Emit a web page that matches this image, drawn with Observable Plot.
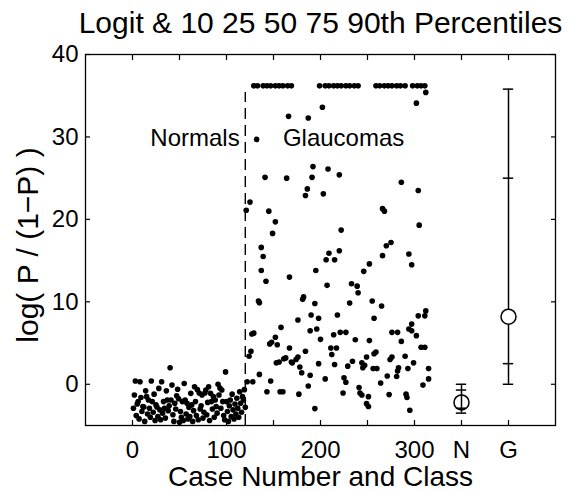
<!DOCTYPE html>
<html><head><meta charset="utf-8">
<script src="https://cdn.jsdelivr.net/npm/d3@7"></script>
<script src="https://cdn.jsdelivr.net/npm/@observablehq/plot@0.6"></script>
<style>body{margin:0;background:#fff} svg{font-family:"Liberation Sans",Arial,Helvetica,sans-serif}</style>
</head><body><div id="chart"></div>
<script>
const titleText = "Logit & 10 25 50 75 90th Percentiles";
const xLabelText = "Case Number and Class";
const yLabelText = "log( P / (1\u2212P) )";

const xTicks = [0, 50, 100, 150, 200, 250, 300, 350, 400];
const xTickLabels = ["0", "", "100", "", "200", "", "300", "N", "G"];
const yTicks = [0, 10, 20, 30, 40];

// Normals: cases 1..120
const normalValues = [
 -2.9,-1.3,0.4,-3.8,-2.4,-2.1,-4.2,0.3,-1.6,-3.3,
 -2.7,-2.75,-4.5,-0.8,-1.5,-3.6,-1.9,-2.9,-4.0,0.4,
 -2.1,-3.4,-1.2,-4.4,-2.5,-2.75,-3.9,-0.5,-3.1,-4.3,
 0.3,-3.5,-2.1,-2.9,-4.1,-0.8,-1.9,-3.2,-2.6,2.0,
 -1.9,-0.1,-3.7,-4.5,-2.3,-3.0,-1.4,-0.6,-1.75,-4.6,
 -3.3,-4.0,-2.1,-4.4,0.1,-1.9,-3.6,-2.3,-4.2,-2.8,
 -3.9,-1.1,-2.5,-4.5,-3.2,-0.3,-2.1,-3.8,-0.65,-4.3,
 -1.05,-3.0,-2.6,-1.3,-4.1,-3.4,-1.05,-0.7,-3.7,-2.2,
 -0.3,-4.4,-1.1,-2.1,-3.0,-1.5,-4.0,-1.9,-2.7,-3.5,
 0.0,-1.3,-0.45,-2.9,-0.7,-2.1,-3.8,-4.3,1.5,-2.1,
 -3.3,-4.5,-2.6,-1.9,-3.9,-1.2,-3.1,-4.2,-2.4,-3.6,
 -1.7,-2.9,-4.0,-0.9,-2.3,-3.4,-1.5,-1.9,-0.65,-2.8
];

// Glaucomas: case numbers and logit values
const glaucomaCases = [
 129,133,139,143,147,152,156,160,165,169,199,205,209,214,218,222,227,231,236,240,
 259,263,268,272,276,281,285,290,298,303,307,311,312,
 121,125,132,141,145,149,152,137,139,137,142,166,164,167,187,192,191,186,184,195,
 134,135,181,182,194,190,176,198,189,196,158,152,148,146,154,127,129,126,124,167,
 184,161,156,153,163,169,176,174,170,178,180,189,198,135,147,187,177,157,160,143,
 128,122,194,202,208,220,203,286,304,266,268,305,222,206,209,215,220,246,252,266,
 270,275,294,297,207,233,239,240,231,255,265,218,257,304,312,311,297,214,221,227,
 276,282,294,297,302,200,237,252,286,211,212,217,259,257,307,311,290,276,274,249,
 244,247,245,234,229,215,256,260,299,283,282,293,315,205,225,227,271,281,315,264,
 309,224,241,242,244,251,273,291,292,249,251,295,302
];
const glaucomaValues = [
 36.2,36.2,36.2,36.2,36.2,36.2,36.2,36.2,36.2,36.2,36.2,36.2,36.2,36.2,36.2,36.2,36.2,36.2,36.2,36.2,
 36.2,36.2,36.2,36.2,36.2,36.2,36.2,36.2,36.2,36.2,36.2,36.2,35.4,
 21.1,22.1,29.7,25.1,21.0,18.3,19.7,16.6,15.5,13.8,12.5,32.5,25.0,13.0,32.3,26.4,25.1,23.7,22.9,13.8,
 10.1,9.9,10.3,10.6,9.8,8.4,7.8,8.0,6.5,6.7,6.9,5.7,5.1,4.9,4.8,6.1,6.2,4.0,3.4,4.4,
 4.0,3.1,2.7,2.6,3.2,2.7,3.3,3.0,2.6,2.1,1.4,1.1,2.5,1.2,0.4,-0.2,-1.2,-0.9,-0.9,-0.9,
 0.3,0.3,-2.95,33.6,26.1,25.4,23.1,24.5,23.5,21.3,21.0,19.3,18.7,15.1,15.9,15.1,16.2,13.7,14.6,15.6,
 16.8,17.2,15.8,14.5,12.0,12.2,11.9,11.1,9.85,10.1,9.5,8.4,8.0,8.3,8.9,8.3,7.3,6.0,6.3,6.3,
 6.3,6.3,6.7,6.5,5.9,5.45,5.4,5.3,5.2,4.4,3.6,4.4,3.9,3.7,4.5,4.5,3.4,3.3,3.0,3.3,
 2.6,2.3,2.0,2.8,2.2,2.4,1.9,1.9,2.6,2.0,1.6,1.9,1.9,0.65,0.8,0.25,1.0,0.95,0.65,0.15,
 -0.1,-1.05,-0.4,-1.05,-1.3,-1.5,-1.25,-1.2,-1.6,-2.35,-2.7,-3.15,34.1
];

// Percentile summaries per class
const classNames = ["N", "G"];
const classPositions = [350, 400];
const p10 = [-3.5, 0.0];
const p25 = [-2.9, 2.5];
const p50 = [-2.2, 8.2];
const p75 = [-0.7, 25.0];
const p90 = [0.0, 35.8];

const boundaryCase = 120;
const capValue = 36.2;
const normalsLabel = {t: "Normals", c: 114, v: 29.8};
const glaucomasLabel = {t: "Glaucomas", c: 160, v: 29.8};

const xDomain = [-50, 450];
const yDomain = [-5, 40];

const normals = normalValues.map((v, i) => ({c: i + 1, v}));
const glaucomas = glaucomaCases.map((c, i) => ({c, v: glaucomaValues[i]}));
const pct = classNames.map((n, i) => ({n, pos: classPositions[i], p10: p10[i], p25: p25[i], p50: p50[i], p75: p75[i], p90: p90[i]}));
const capRows = pct.flatMap(d => [d.p10, d.p25, d.p75, d.p90].map(v => ({pos: d.pos, v})));

const capHalf = 5.5; // data units (~5px)

const chart = Plot.plot({
  width: 575, height: 492,
  marginLeft: 85, marginRight: 20, marginTop: 54, marginBottom: 67,
  style: {fontFamily: "Liberation Sans, Arial, Helvetica, sans-serif", fontSize: "24px", color: "black", background: "white", overflow: "visible"},
  x: {domain: xDomain, label: null},
  y: {domain: yDomain, label: null},
  marks: [
    Plot.frame({stroke: "black", strokeWidth: 1.3}),
    Plot.axisX(xTicks, {anchor: "bottom", tickSize: -5, fill: "none", label: null, strokeWidth: 1.2}),
    Plot.axisX(xTicks, {anchor: "top", tickSize: -5, fill: "none", label: null, strokeWidth: 1.2}),
    Plot.axisY(yTicks, {anchor: "left", tickSize: -5, fill: "none", label: null, strokeWidth: 1.2}),
    Plot.axisY(yTicks, {anchor: "right", tickSize: -5, fill: "none", label: null, strokeWidth: 1.2}),
    Plot.axisX(xTicks, {anchor: "bottom", tickSize: 0, tickPadding: 15, label: null, fontSize: 24,
      tickFormat: d => xTickLabels[xTicks.indexOf(d)]}),
    Plot.axisY(yTicks, {anchor: "left", tickSize: 0, tickPadding: 7, label: null, fontSize: 24}),
    Plot.ruleX([boundaryCase], {y1: yDomain[0], y2: capValue - 0.8, stroke: "black", strokeWidth: 1.4, strokeDasharray: "11,6"}),
    Plot.dot(normals, {x: "c", y: "v", r: 2.8, fill: "black"}),
    Plot.dot(glaucomas, {x: "c", y: "v", r: 2.8, fill: "black"}),
    Plot.ruleX(pct, {x: "pos", y1: "p10", y2: "p90", stroke: "black", strokeWidth: 1.5}),
    Plot.ruleY(capRows, {y: "v", x1: d => d.pos - capHalf, x2: d => d.pos + capHalf, stroke: "black", strokeWidth: 1.5}),
    Plot.dot(pct.filter(d => d.n === "N"), {x: "pos", y: "p50", r: 7.5, stroke: "black", strokeWidth: 1.5, fill: "none"}),
    Plot.dot(pct.filter(d => d.n === "G"), {x: "pos", y: "p50", r: 7.5, stroke: "black", strokeWidth: 1.5, fill: "white"}),
    Plot.text([normalsLabel], {x: "c", y: "v", text: "t", textAnchor: "end", fontSize: 24, fill: "black"}),
    Plot.text([glaucomasLabel], {x: "c", y: "v", text: "t", textAnchor: "start", fontSize: 24, fill: "black"}),
    Plot.text([titleText], {frameAnchor: "top", lineAnchor: "middle", dy: -31, fontSize: 30, fill: "black"}),
    Plot.text([xLabelText], {frameAnchor: "bottom", lineAnchor: "middle", dy: 52, fontSize: 28, fill: "black"}),
    Plot.text([yLabelText], {frameAnchor: "left", textAnchor: "middle", lineAnchor: "middle", dx: -57, dy: 5, rotate: -90, fontSize: 30, fill: "black"})
  ]
});
document.getElementById("chart").append(chart);
</script>
</body></html>
